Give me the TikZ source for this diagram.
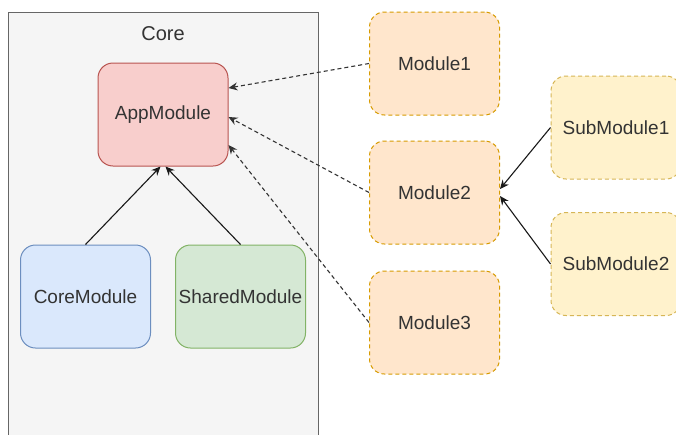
\documentclass[tikz,border=0pt]{standalone}
\usepackage{fontspec}
\setmainfont{Liberation Sans}
\usetikzlibrary{arrows.meta,calc}

\definecolor{txt}{HTML}{333333}
\definecolor{corefill}{HTML}{F5F5F5}
\definecolor{coreline}{HTML}{666666}
\definecolor{redfill}{HTML}{F8CECC}
\definecolor{redline}{HTML}{B85450}
\definecolor{bluefill}{HTML}{DAE8FC}
\definecolor{blueline}{HTML}{6C8EBF}
\definecolor{greenfill}{HTML}{D5E8D4}
\definecolor{greenline}{HTML}{82B366}
\definecolor{orangefill}{HTML}{FFE6CC}
\definecolor{orangeline}{HTML}{D79B00}
\definecolor{yellowfill}{HTML}{FFF2CC}
\definecolor{yellowline}{HTML}{D6B656}

\tikzset{
  modbox/.style={draw, rounded corners=15pt, minimum width=130pt, minimum height=103pt,
    inner sep=0pt, line width=1pt, text=txt, font=\fontsize{19}{22}\selectfont},
  appbox/.style={modbox, fill=redfill, draw=redline},
  corebox/.style={modbox, fill=bluefill, draw=blueline},
  sharedbox/.style={modbox, fill=greenfill, draw=greenline},
  featbox/.style={modbox, fill=orangefill, draw=orangeline, dash pattern=on 4pt off 3pt},
  subbox/.style={modbox, fill=yellowfill, draw=yellowline, dash pattern=on 4pt off 3pt},
  solidlink/.style={draw=black!90, line width=1.1pt,
    -{Stealth[length=9pt,width=8pt,inset=3pt]}},
  dashlink/.style={draw=black!80, line width=1.1pt, dash pattern=on 4pt off 3pt,
    -{Stealth[length=9pt,width=8pt,inset=3pt]}},
}

\begin{document}
\begin{tikzpicture}[x=1pt,y=-1pt]
\useasboundingbox (0,0) rectangle (676,434);
\clip (0,0) rectangle (676,434);

% Core container
\fill[white] (0,0) rectangle (676,434);
\draw[fill=corefill, draw=coreline, line width=1pt] (8,12) rectangle (318,460);
\node[text=txt, font=\fontsize{20}{24}\selectfont] (corelabel) at (163,34) {Core};

% Modules inside the core
\node[appbox] (app) at (163,114.5) {AppModule};
\node[corebox] (coremod) at (85.5,296.5) {CoreModule};
\node[sharedbox] (shared) at (240.5,296.5) {SharedModule};

% Feature modules
\node[featbox] (m1) at (434.5,63.5) {Module1};
\node[featbox] (m2) at (434.5,192.5) {Module2};
\node[featbox] (m3) at (434.5,322.5) {Module3};

% Sub modules
\node[subbox] (s1) at (616,127.5) {SubModule1};
\node[subbox] (s2) at (616,264) {SubModule2};

% Imports into AppModule
\draw[solidlink] (coremod.north) -- ([xshift=-2.5pt]app.south);
\draw[solidlink] (shared.north) -- ([xshift=2.5pt]app.south);
\draw[dashlink] (m1.west) -- ([yshift=26.5pt]app.east);
\draw[dashlink] (m2.west) -- ([yshift=-2.5pt]app.east);
\draw[dashlink] (m3.west) -- ([yshift=-30.5pt]app.east);

% Sub modules into Module2
\draw[solidlink] (s1.west) -- ([yshift=3.5pt]m2.east);
\draw[solidlink] (s2.west) -- ([yshift=-3.5pt]m2.east);
\end{tikzpicture}
\end{document}
